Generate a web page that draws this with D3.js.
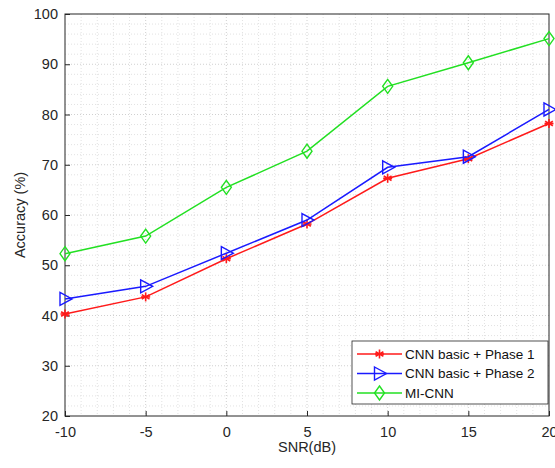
<!DOCTYPE html>
<html>
<head>
<meta charset="utf-8">
<script src="https://cdn.jsdelivr.net/npm/d3@7"></script>
<style>
  body { margin: 0; background: #fff; }
  svg { font-family: "Liberation Sans", Arial, sans-serif; }
</style>
</head>
<body>
<svg id="chart" width="555" height="468"></svg>
<script>
// data
var snr = [-10, -5, 0, 5, 10, 15, 20];
var phase1 = [40.3, 43.7, 51.3, 58.2, 67.3, 71.2, 78.2];
var phase2 = [43.3, 45.8, 52.4, 59.0, 69.5, 71.6, 81.0];
var miCnn = [52.3, 55.8, 65.5, 72.7, 85.6, 90.3, 95.1];
var seriesNames = ['CNN basic + Phase 1', 'CNN basic + Phase 2', 'MI-CNN'];
var xTicks = [-10, -5, 0, 5, 10, 15, 20];
var yTicks = [20, 30, 40, 50, 60, 70, 80, 90, 100];

var svg = d3.select('#chart');
var pLeft = 65, pRight = 549, pTop = 14, pBottom = 416;

var x = d3.scaleLinear().domain([-10, 20]).range([pLeft, pRight]);
var y = d3.scaleLinear().domain([20, 100]).range([pBottom, pTop]);

// minor grid
var grid = svg.append('g');
grid.selectAll('.vx').data(d3.range(-9, 20, 1)).enter().append('line')
  .attr('x1', d => x(d)).attr('x2', d => x(d)).attr('y1', pTop).attr('y2', pBottom)
  .attr('stroke', d => d % 5 === 0 ? '#d0d0d0' : '#e2e2e2').attr('stroke-dasharray', '1,2');
grid.selectAll('.hy').data(d3.range(22, 100, 2)).enter().append('line')
  .attr('y1', d => y(d)).attr('y2', d => y(d)).attr('x1', pLeft).attr('x2', pRight)
  .attr('stroke', d => d % 10 === 0 ? '#d0d0d0' : '#e2e2e2').attr('stroke-dasharray', '1,2');

// axes
var xAxis = svg.append('g').attr('transform', 'translate(0,' + pBottom + ')')
  .call(d3.axisBottom(x).tickValues(xTicks).tickSize(-5).tickPadding(11).tickFormat(d => String(d)));
var yAxis = svg.append('g').attr('transform', 'translate(' + pLeft + ',0)')
  .call(d3.axisLeft(y).tickValues(yTicks).tickSize(-5).tickPadding(7).tickFormat(d => String(d)));
[xAxis, yAxis].forEach(function(a) {
  a.select('.domain').remove();
  a.selectAll('line').attr('stroke', '#262626');
  a.selectAll('text').attr('fill', '#262626').style('font-size', '14.5px');
});

// box
svg.append('rect').attr('x', pLeft).attr('y', pTop).attr('width', pRight - pLeft).attr('height', pBottom - pTop)
  .attr('fill', 'none').attr('stroke', '#262626').attr('stroke-width', 1);

// axis titles
svg.append('text').attr('x', (pLeft + pRight) / 2).attr('y', 452).attr('text-anchor', 'middle')
  .attr('fill', '#262626').style('font-size', '14.5px').text('SNR(dB)');
svg.append('text').attr('transform', 'translate(25,' + ((pTop + pBottom) / 2) + ') rotate(-90)')
  .attr('text-anchor', 'middle').attr('fill', '#262626').style('font-size', '14.5px').text('Accuracy (%)');

var colors = ['#ff1a1a', '#1a1aff', '#22e022'];
var allSeries = [phase1, phase2, miCnn];
var line = d3.line().x((d, i) => x(snr[i])).y(d => y(d));

function marker(g, kind, color) {
  if (kind === 0) {
    var r = 4.5;
    [0, 60, 120].forEach(function(a) {
      var rad = a * Math.PI / 180;
      g.append('line').attr('x1', -r * Math.sin(rad)).attr('y1', -r * Math.cos(rad))
        .attr('x2', r * Math.sin(rad)).attr('y2', r * Math.cos(rad))
        .attr('stroke', color).attr('stroke-width', 1.6);
    });
    g.append('line').attr('x1', -r).attr('x2', r).attr('y1', 0).attr('y2', 0)
      .attr('stroke', color).attr('stroke-width', 1.6);
  } else if (kind === 1) {
    g.append('path').attr('d', 'M-5,-6.5L7,0L-5,6.5Z').attr('fill', 'none')
      .attr('stroke', color).attr('stroke-width', 1.4);
  } else {
    g.append('path').attr('d', 'M0,-7L5,0L0,7L-5,0Z').attr('fill', 'none')
      .attr('stroke', color).attr('stroke-width', 1.4);
  }
}

allSeries.forEach(function(vals, k) {
  svg.append('path').datum(vals).attr('d', line).attr('fill', 'none')
    .attr('stroke', colors[k]).attr('stroke-width', 1.5);
  svg.selectAll('.m' + k).data(vals).enter().append('g')
    .attr('transform', (d, i) => 'translate(' + x(snr[i]) + ',' + y(d) + ')')
    .each(function() { marker(d3.select(this), k, colors[k]); });
});

// legend
var lg = svg.append('g').attr('transform', 'translate(352,341)');
lg.append('rect').attr('width', 196).attr('height', 63).attr('fill', '#fff')
  .attr('stroke', '#262626').attr('stroke-width', 0.8);
seriesNames.forEach(function(name, k) {
  var ry = 13 + k * 19.5;
  lg.append('line').attr('x1', 5).attr('x2', 50).attr('y1', ry).attr('y2', ry)
    .attr('stroke', colors[k]).attr('stroke-width', 1.5);
  var mg = lg.append('g').attr('transform', 'translate(27.5,' + ry + ')');
  marker(mg, k, colors[k]);
  lg.append('text').attr('x', 53).attr('y', ry + 4.8).attr('fill', '#111')
    .style('font-size', '13.5px').text(name);
});
</script>
</body>
</html>
